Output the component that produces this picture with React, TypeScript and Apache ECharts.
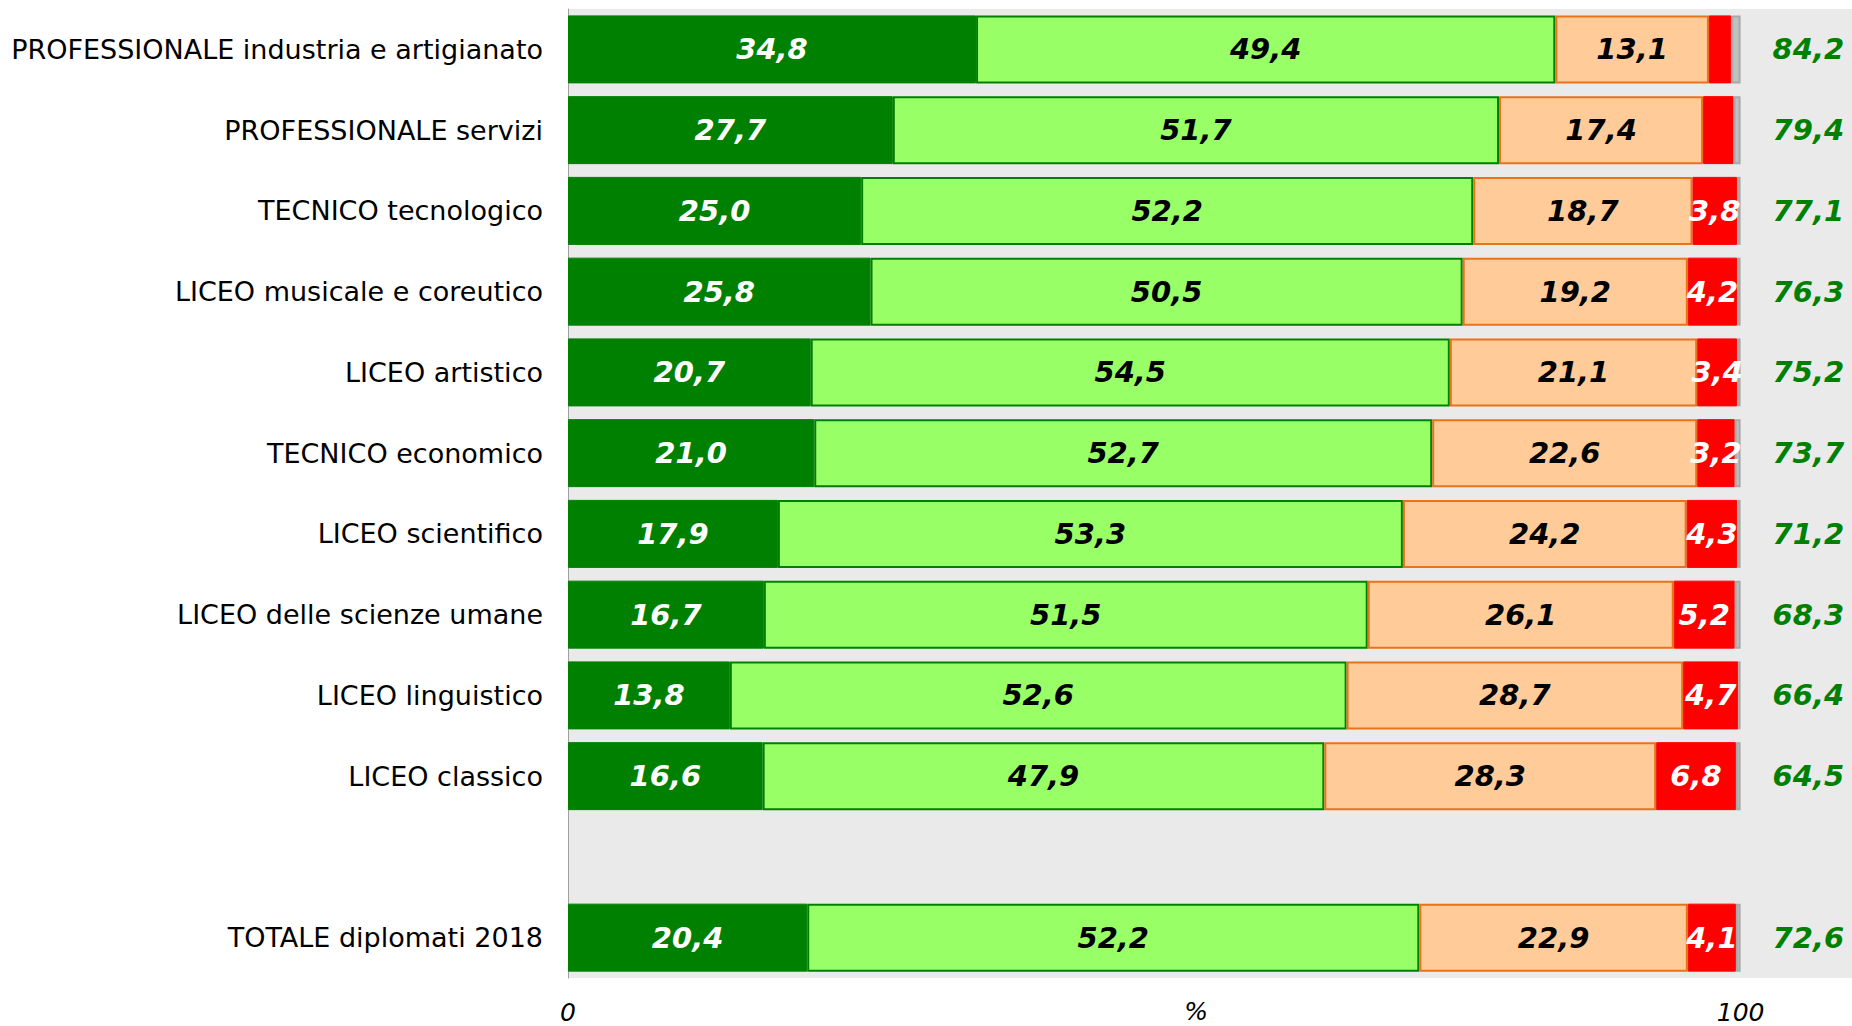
import React, { useEffect, useRef } from "react";
import * as echarts from "echarts";

const categories = [
  "PROFESSIONALE industria e artigianato",
  "PROFESSIONALE servizi",
  "TECNICO tecnologico",
  "LICEO musicale e coreutico",
  "LICEO artistico",
  "TECNICO economico",
  "LICEO scientifico",
  "LICEO delle scienze umane",
  "LICEO linguistico",
  "LICEO classico",
  "",
  "TOTALE diplomati 2018",
];

const seriesA = [34.8, 27.7, 25.0, 25.8, 20.7, 21.0, 17.9, 16.7, 13.8, 16.6, null, 20.4];
const seriesB = [49.4, 51.7, 52.2, 50.5, 54.5, 52.7, 53.3, 51.5, 52.6, 47.9, null, 52.2];
const seriesC = [13.1, 17.4, 18.7, 19.2, 21.1, 22.6, 24.2, 26.1, 28.7, 28.3, null, 22.9];
const seriesD = [1.9, 2.6, 3.8, 4.2, 3.4, 3.2, 4.3, 5.2, 4.7, 6.8, null, 4.1];
const seriesE = [0.8, 0.6, 0.3, 0.3, 0.3, 0.5, 0.3, 0.5, 0.2, 0.4, null, 0.4];
const totals = [84.2, 79.4, 77.1, 76.3, 75.2, 73.7, 71.2, 68.3, 66.4, 64.5, null, 72.6];

const xTickLabels: Record<number, string> = { 0: "0", 100: "100" };
const xAxisName = "%";

const fmt = (v: number) => v.toFixed(1).replace(".", ",");

export default function App() {
  const ref = useRef<HTMLDivElement>(null);
  useEffect(() => {
    document.body.style.margin = "0";
    const chart = echarts.init(ref.current!, null, { renderer: "svg" });
    const font = "DejaVu Sans, Verdana, sans-serif";
    const labelBase = {
      show: true,
      position: "inside" as const,
      fontFamily: font,
      fontSize: 29,
      fontWeight: "bold" as const,
      fontStyle: "italic" as const,
    };
    const mk = (name: string, data: any[], color: string, border: string, borderWidth: number, labelColor: string | null, minLabel = 0) => ({
      name,
      type: "bar",
      stack: "s",
      data,
      barWidth: 68,
      itemStyle: { color, borderColor: border, borderWidth },
      label: labelColor
        ? {
            ...labelBase,
            color: labelColor,
            formatter: (p: any) => (p.value == null || p.value < minLabel ? "" : fmt(p.value)),
          }
        : { show: false },
    });
    chart.setOption({
      animation: false,
      grid: {
        left: 568,
        right: 0,
        top: 9,
        bottom: 48,
        show: true,
        backgroundColor: "#EAEAEA",
        borderWidth: 0,
        containLabel: false,
        outerBoundsMode: "none",
      },
      xAxis: {
        type: "value",
        min: 0,
        max: 109.5,
        interval: 100,
        name: xAxisName,
        nameLocation: "middle",
        nameGap: 21,
        nameMoveOverlap: false,
        nameTextStyle: {
          fontFamily: font,
          fontSize: 25,
          lineHeight: 25,
          fontStyle: "italic",
          color: "#000",
          verticalAlign: "top",
          padding: [0, 28, 0, 0],
        },
        splitLine: { show: false },
        axisLine: { show: false },
        axisTick: { show: false },
        axisLabel: {
          fontFamily: font,
          fontSize: 25,
          lineHeight: 25,
          fontStyle: "italic",
          color: "#000",
          margin: 22,
          showMaxLabel: false,
          formatter: (v: number) => xTickLabels[v] ?? "",
        },
      },
      yAxis: {
        type: "category",
        data: categories,
        inverse: true,
        axisLine: { show: true, lineStyle: { color: "#A0A0A0", width: 1 } },
        axisTick: { show: false },
        axisLabel: {
          fontFamily: font,
          fontSize: 27,
          color: "#000",
          margin: 25,
        },
      },
      series: [
        mk("a", seriesA, "#008000", "#008000", 1, "#FFFFFF"),
        mk("b", seriesB, "#99FF66", "#008000", 2, "#000000"),
        mk("c", seriesC, "#FFCC99", "#E8731A", 2, "#000000"),
        mk("d", seriesD, "#FF0000", "#FF0000", 1, "#FFFFFF", 3),
        {
          ...mk("e", seriesE, "#C0C0C0", "#A8A8A8", 2, null),
          label: {
            show: true,
            position: "right",
            distance: 32,
            fontFamily: font,
            fontSize: 29,
            fontWeight: "bold",
            fontStyle: "italic",
            color: "#008000",
            formatter: (p: any) => (totals[p.dataIndex] == null ? "" : fmt(totals[p.dataIndex] as number)),
          },
        },
      ],
    });
    return () => chart.dispose();
  }, []);
  return <div ref={ref} style={{ width: 1852, height: 1026 }} />;
}
